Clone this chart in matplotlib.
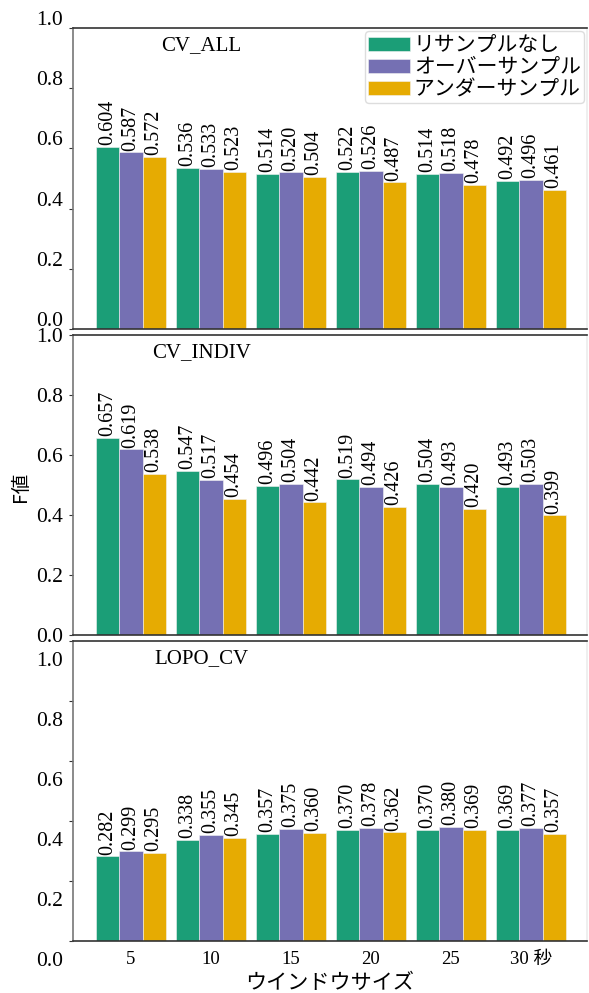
import matplotlib
matplotlib.use('Agg')
import matplotlib.pyplot as plt
import matplotlib.transforms as mtrans
import numpy as np

plt.rcParams['font.family'] = ['Liberation Serif', 'Noto Sans CJK JP']

windows = ['5', '10', '15', '20', '25', '30 秒']
methods = ['リサンプルなし', 'オーバーサンプル', 'アンダーサンプル']
colors = ['#1b9e77', '#7570b3', '#e6ab02']
panels = ['CV_ALL', 'CV_INDIV', 'LOPO_CV']

cv_all_none = [0.604, 0.536, 0.514, 0.522, 0.514, 0.492]
cv_all_over = [0.587, 0.533, 0.520, 0.526, 0.518, 0.496]
cv_all_under = [0.572, 0.523, 0.504, 0.487, 0.478, 0.461]

cv_indiv_none = [0.657, 0.547, 0.496, 0.519, 0.504, 0.493]
cv_indiv_over = [0.619, 0.517, 0.504, 0.494, 0.493, 0.503]
cv_indiv_under = [0.538, 0.454, 0.442, 0.426, 0.420, 0.399]

lopo_none = [0.282, 0.338, 0.357, 0.370, 0.370, 0.369]
lopo_over = [0.299, 0.355, 0.375, 0.378, 0.380, 0.377]
lopo_under = [0.295, 0.345, 0.360, 0.362, 0.369, 0.357]

results = [[cv_all_none, cv_all_over, cv_all_under],
           [cv_indiv_none, cv_indiv_over, cv_indiv_under],
           [lopo_none, lopo_over, lopo_under]]

fig = plt.figure(figsize=(5.89, 9.93), dpi=100)
W, H = 589.0, 993.0
left, right = 73 / W, 587 / W
# (top, bottom) in pixels, and shift of the y tick labels in pixels
boxes = [(28, 329, 10), (335, 635, 0), (641, 941, -18)]

x = np.arange(len(windows))
bw = 0.29

for k, (top, bottom, shift) in enumerate(boxes):
    ax = fig.add_axes([left, 1 - bottom / H, right - left, (bottom - top) / H])
    for j in range(3):
        vals = results[k][j]
        pos = x + (j - 1) * bw
        ax.bar(pos, vals, bw, color=colors[j], edgecolor='#f2f2f2', linewidth=0.4,
               label=methods[j])
        for p, v in zip(pos, vals):
            ax.text(p, v + 0.006, '%.3f' % v, rotation=90, ha='center', va='bottom',
                    fontsize=14.5)
    ax.set_xlim(-0.725, 5.7)
    ax.set_ylim(0, 1.0)
    ax.set_yticks([0.0, 0.2, 0.4, 0.6, 0.8, 1.0])
    ax.set_yticklabels(['0.0', '0.2', '0.4', '0.6', '0.8', '1.0'])
    ax.tick_params(axis='y', length=3, width=0.8, pad=4, labelsize=15.5, color='#333333')
    off = mtrans.ScaledTranslation(0, shift / 100.0, fig.dpi_scale_trans)
    for lab in ax.get_yticklabels():
        lab.set_transform(lab.get_transform() + off)
    ax.text(0.25, 0.94, panels[k], transform=ax.transAxes, ha='center', va='center',
            fontsize=15)
    ax.spines['top'].set_color('#333333')
    ax.spines['bottom'].set_color('#333333')
    ax.spines['left'].set_color('#777777')
    ax.spines['right'].set_color('#ececec')
    for s in ax.spines.values():
        s.set_linewidth(1.2)
    if k < 2:
        ax.set_xticks([])
    else:
        ax.set_xticks(x)
        ax.set_xticklabels(windows)
        ax.tick_params(axis='x', length=0, pad=7, labelsize=13.5)
    if k == 0:
        ax.legend(loc='upper right', prop={'family': 'Noto Sans CJK JP', 'size': 15},
                  handlelength=2.0, handleheight=0.65, handletextpad=0.2,
                  labelspacing=0.0, borderpad=0.15, borderaxespad=0.15,
                  edgecolor='#dddddd', framealpha=1.0)

fig.text(20 / W, 1 - 487 / H, 'F値', rotation=90, ha='center', va='center',
         fontsize=14, family='Noto Sans CJK JP')
fig.text(330 / W, 1 - 983 / H, 'ウインドウサイズ', ha='center', va='center',
         fontsize=15.2, family='Noto Sans CJK JP')

fig.savefig('out.png', dpi=100)
